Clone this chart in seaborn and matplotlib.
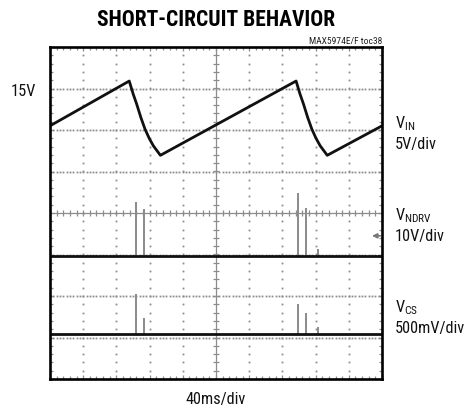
import numpy as np
import pandas as pd
import seaborn as sns
import matplotlib
matplotlib.use("Agg")
import matplotlib.pyplot as plt
from matplotlib import font_manager
from matplotlib.ticker import MultipleLocator

# ---- scope channel data (time in ms, values in volts) ----
vin_t = [0, 95.5, 100.0, 104.5, 109.5, 114.5, 119.5, 124.5, 133.0,
         296.5, 301.0, 305.5, 310.5, 315.5, 320.5, 325.5, 334.0, 400]
vin_v = [10.5, 15.9, 14.4, 13.1, 11.5, 10.1, 9.0, 8.1, 6.95,
         15.9, 14.4, 13.1, 11.5, 10.1, 9.0, 8.1, 6.95, 10.5]

spike_t = [103.6, 112.9, 298.2, 308.4, 323.3]
ndrv_spike_v = [13.0, 11.2, 15.0, 11.6, 1.6]
cs_spike_v = [0.48, 0.20, 0.36, 0.26, 0.085]

baseline_t = [0, 400]
ndrv_base_v = [0.0, 0.0]
cs_base_v = [0.0, 0.0]

# ---- channel settings: volts per division and zero position (divisions) ----
VIN_SCALE, VIN_ZERO = 5.0, 0.0
NDRV_SCALE, NDRV_ZERO = 10.0, -1.03
CS_SCALE, CS_ZERO = 0.5, -2.92
TIME_DIV = 40.0

sns.set_theme(style="white")
avail = {f.name for f in font_manager.fontManager.ttflist}
family = next((f for f in ["Liberation Sans Narrow", "Roboto Condensed",
                           "DejaVu Sans Condensed", "Liberation Sans"] if f in avail),
              "DejaVu Sans")
plt.rcParams["font.family"] = [family, "DejaVu Sans"]
plt.rcParams["mathtext.fontset"] = "custom"
plt.rcParams["mathtext.rm"] = family
plt.rcParams["mathtext.it"] = family

fig = plt.figure(figsize=(4.7, 4.1), dpi=100)
W, H = 470, 410
ax = fig.add_axes([50 / W, 30 / H, 332 / W, 332 / H])
ax.set_facecolor("white")
ax.set_xlim(0, 10 * TIME_DIV)
ax.set_ylim(-4, 4)

grid_c = "#8c8c8c"
dot_kw = dict(ls="none", marker="s", ms=1.3, mew=0, color=grid_c, zorder=1)

# dotted graticule
hx = np.arange(0, 10 * TIME_DIV + 0.1, TIME_DIV / 10)
for d in [-3, -2, -1, 1, 2, 3]:
    ax.plot(hx, np.full_like(hx, d), **dot_kw)
vy = np.arange(-4, 4.01, 0.2)
for k in range(1, 10):
    if k == 5:
        continue
    ax.plot(np.full_like(vy, k * TIME_DIV), vy, **dot_kw)

# centre cross-hair with minor ticks
ax.axhline(0, color=grid_c, lw=0.9, zorder=1)
ax.axvline(5 * TIME_DIV, color=grid_c, lw=0.9, zorder=1)
mx = np.arange(0, 10 * TIME_DIV + 1, TIME_DIV / 5)
my = np.arange(-4, 4.01, 0.2)
ax.plot(mx, np.zeros_like(mx), ls="none", marker="|", ms=4.5, mew=0.9, color=grid_c, zorder=1)
ax.plot(np.full_like(my, 5 * TIME_DIV), my, ls="none", marker="_", ms=4.5, mew=0.9, color=grid_c, zorder=1)

# border ticks
ax.xaxis.set_major_locator(MultipleLocator(TIME_DIV))
ax.xaxis.set_minor_locator(MultipleLocator(TIME_DIV / 5))
ax.yaxis.set_major_locator(MultipleLocator(1))
ax.yaxis.set_minor_locator(MultipleLocator(0.2))
ax.tick_params(which="both", direction="in", top=True, right=True, bottom=True, left=True,
               color=grid_c, labelbottom=False, labelleft=False, width=0.9)
ax.tick_params(which="major", length=3)
ax.tick_params(which="minor", length=2)
for s in ax.spines.values():
    s.set_color("black")
    s.set_linewidth(1.9)
    s.set_zorder(5)

# spikes on NDRV and CS channels
ax.vlines(spike_t, NDRV_ZERO, [NDRV_ZERO + v / NDRV_SCALE for v in ndrv_spike_v],
          color="#8a8a8a", lw=1.4, zorder=2)
ax.vlines(spike_t, CS_ZERO, [CS_ZERO + v / CS_SCALE for v in cs_spike_v],
          color="#8a8a8a", lw=1.4, zorder=2)

# traces
vin_df = pd.DataFrame({"t": vin_t, "div": [v / VIN_SCALE + VIN_ZERO for v in vin_v]})
ndrv_df = pd.DataFrame({"t": baseline_t, "div": [v / NDRV_SCALE + NDRV_ZERO for v in ndrv_base_v]})
cs_df = pd.DataFrame({"t": baseline_t, "div": [v / CS_SCALE + CS_ZERO for v in cs_base_v]})
for df in (vin_df, ndrv_df, cs_df):
    sns.lineplot(data=df, x="t", y="div", ax=ax, color="#111111", lw=2.0,
                 sort=False, estimator=None, zorder=3)
ax.set_xlabel("")
ax.set_ylabel("")

# ground level marker for NDRV
ax.annotate("", xy=(388, -0.55), xytext=(398, -0.55),
            arrowprops=dict(arrowstyle="-|>", color="#777777", lw=1.2,
                            mutation_scale=7, shrinkA=0, shrinkB=0), zorder=4)

def ftext(x, y, s, **kw):
    fig.text(x / W, 1 - y / H, s, **kw)

ftext(216, 20, "SHORT-CIRCUIT BEHAVIOR", ha="center", va="center",
      fontsize=15.5, fontweight="bold", color="black")
ftext(382, 41.5, "MAX5974E/F toc38", ha="right", va="center", fontsize=6.8, color="#222222")
ftext(36, 91, "15V", ha="right", va="center", fontsize=11.7, color="#111111")
ftext(216, 400, "40ms/div", ha="center", va="center", fontsize=11.7, color="#111111")

lab_kw = dict(ha="left", va="center", fontsize=11.7, color="#111111")
ftext(395, 124, r"V$_{\rm IN}$", **lab_kw)
ftext(395, 145, "5V/div", **lab_kw)
ftext(395, 216, r"V$_{\rm NDRV}$", **lab_kw)
ftext(395, 237, "10V/div", **lab_kw)
ftext(395, 308, r"V$_{\rm CS}$", **lab_kw)
ftext(395, 328, "500mV/div", **lab_kw)

fig.savefig("out.png", dpi=100, facecolor="white")
